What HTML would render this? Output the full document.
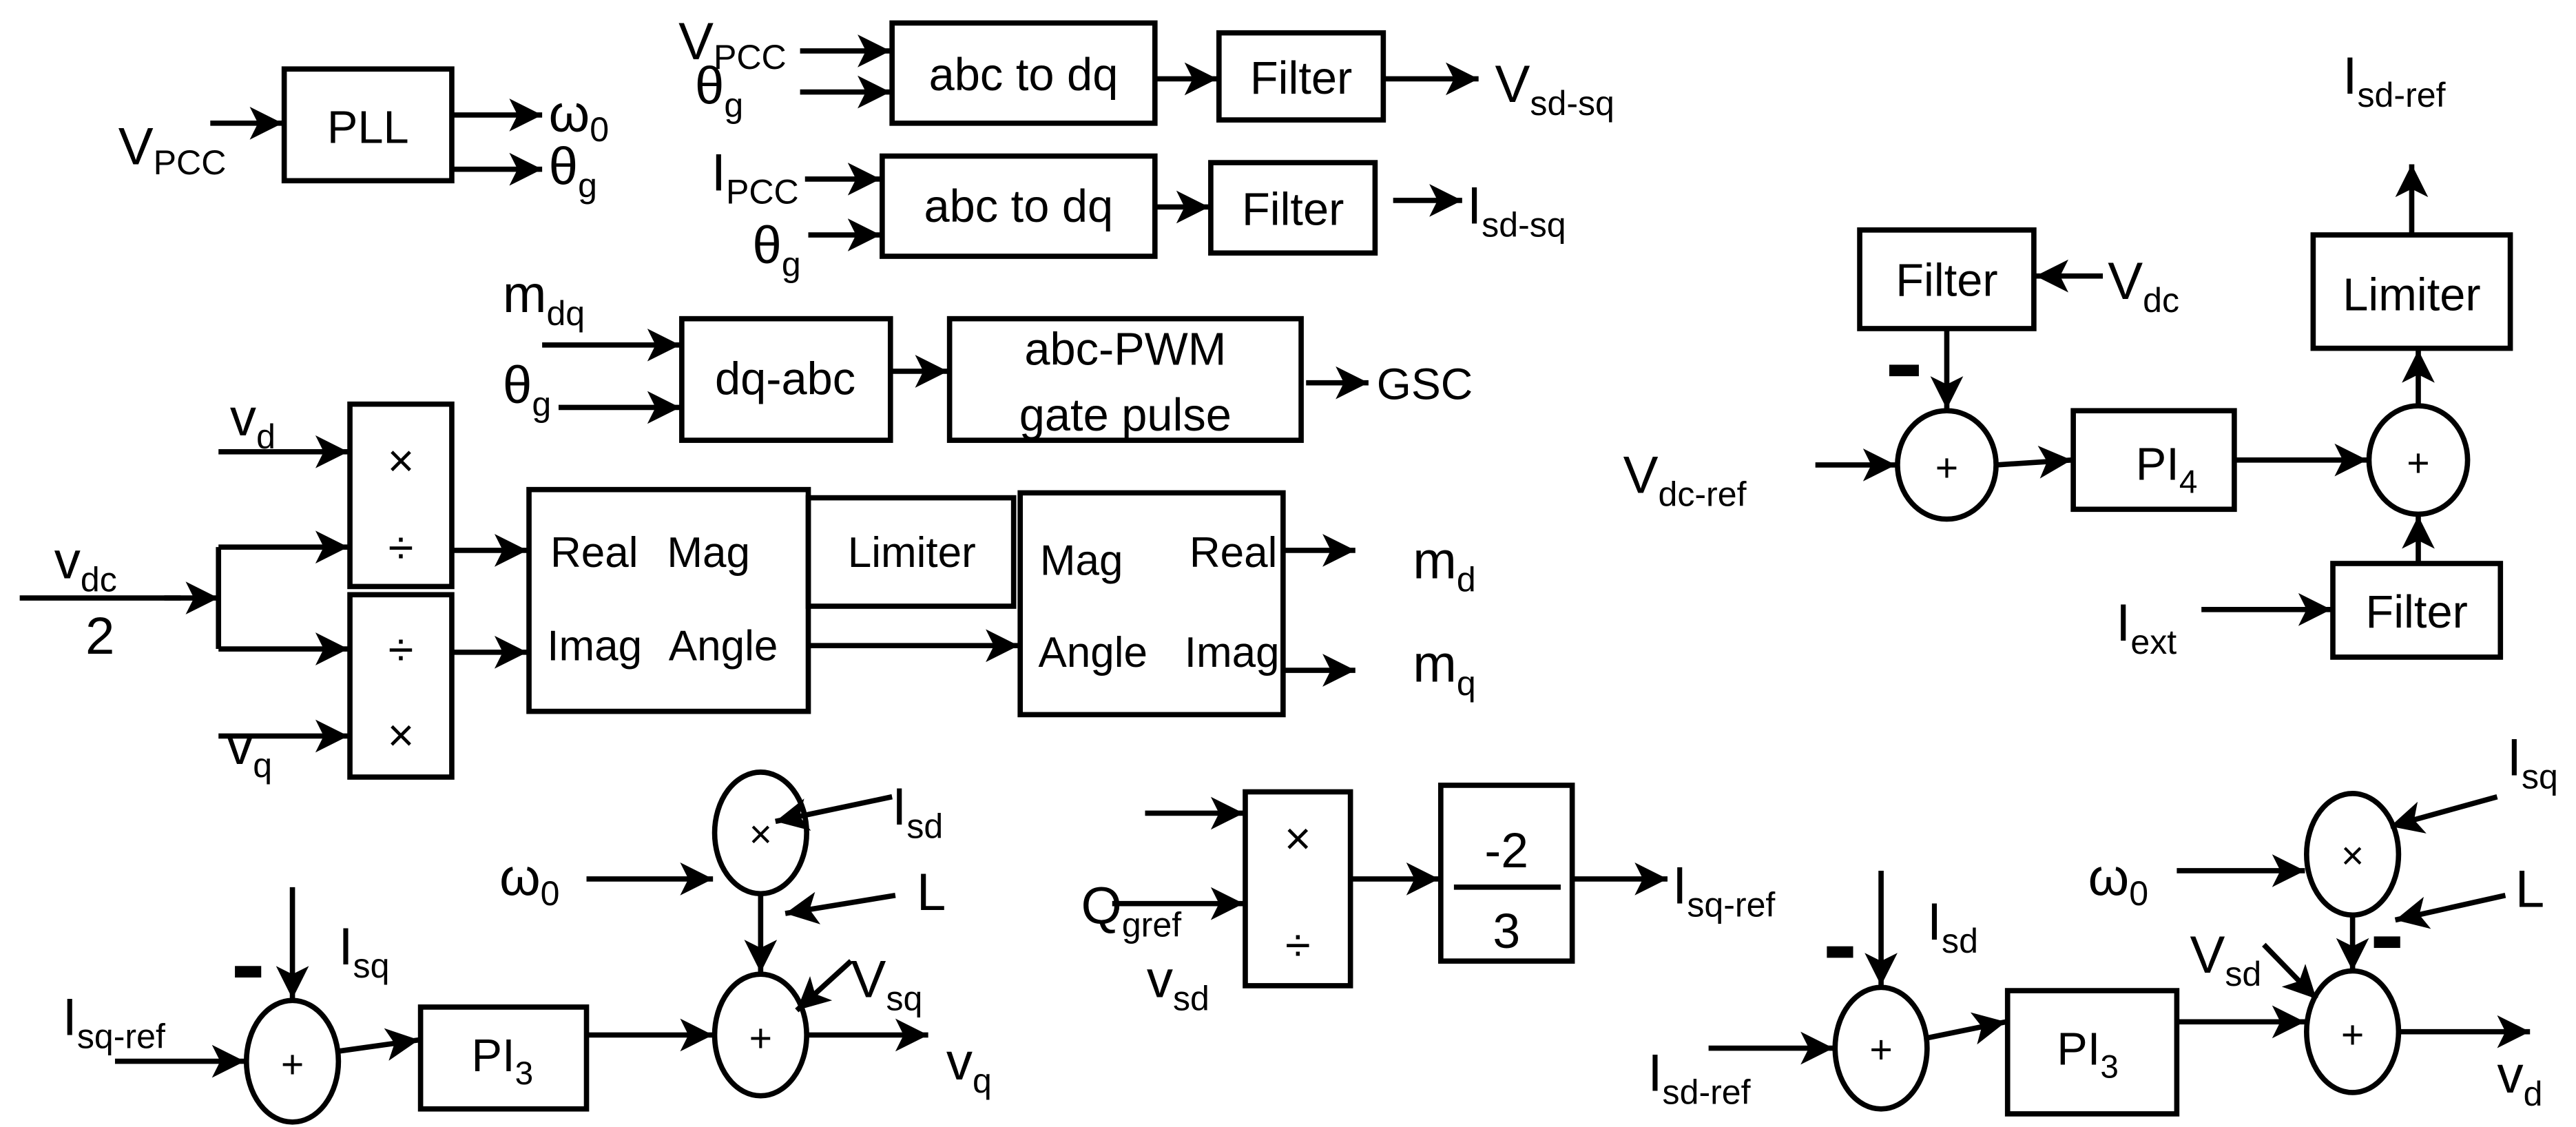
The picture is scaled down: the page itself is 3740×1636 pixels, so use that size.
<!DOCTYPE html>
<html><head><meta charset="utf-8"><style>
html,body{margin:0;padding:0;background:#fff}
svg{display:block}
text{font-family:"Liberation Sans",sans-serif;fill:#000}
.l{font-size:32px}
.l tspan{font-size:21px}
</style></head><body>
<svg width="3740" height="1636" viewBox="0 0 1568 686" preserveAspectRatio="none" xmlns="http://www.w3.org/2000/svg">
<defs>
<marker id="a" markerUnits="userSpaceOnUse" markerWidth="24" markerHeight="22" refX="20" refY="10" orient="auto"><path d="M0,0 L20,10 L0,20 L5,10 z" fill="#000"/></marker>
</defs>
<g stroke="#000" stroke-width="3.2" fill="none">
<rect x="173" y="42" width="102" height="68"/>
<line x1="128" y1="75" x2="172" y2="75" marker-end="url(#a)"/>
<line x1="275" y1="70" x2="330" y2="70" marker-end="url(#a)"/>
<line x1="275" y1="103" x2="330" y2="103" marker-end="url(#a)"/>
<rect x="543" y="14" width="160" height="61"/>
<rect x="742" y="20" width="100" height="53"/>
<line x1="487" y1="31" x2="542" y2="31" marker-end="url(#a)"/>
<line x1="487" y1="56" x2="542" y2="56" marker-end="url(#a)"/>
<line x1="703" y1="48" x2="741" y2="48" marker-end="url(#a)"/>
<line x1="842" y1="48" x2="900" y2="48" marker-end="url(#a)"/>
<rect x="537" y="95" width="166" height="61"/>
<rect x="737" y="99" width="100" height="55"/>
<line x1="490" y1="109" x2="536" y2="109" marker-end="url(#a)"/>
<line x1="492" y1="143" x2="536" y2="143" marker-end="url(#a)"/>
<line x1="703" y1="126" x2="736" y2="126" marker-end="url(#a)"/>
<line x1="848" y1="122" x2="890" y2="122" marker-end="url(#a)"/>
<rect x="415" y="194" width="127" height="74"/>
<rect x="578" y="194" width="214" height="74"/>
<line x1="330" y1="210" x2="414" y2="210" marker-end="url(#a)"/>
<line x1="340" y1="248" x2="414" y2="248" marker-end="url(#a)"/>
<line x1="542" y1="226" x2="577" y2="226" marker-end="url(#a)"/>
<line x1="795" y1="233" x2="833" y2="233" marker-end="url(#a)"/>
<rect x="213" y="246" width="62" height="111"/>
<rect x="213" y="362" width="62" height="111"/>
<line x1="133" y1="275" x2="212" y2="275" marker-end="url(#a)"/>
<line x1="133" y1="448" x2="212" y2="448" marker-end="url(#a)"/>
<line x1="12" y1="364" x2="110" y2="364"/>
<line x1="100" y1="364" x2="133" y2="364" marker-end="url(#a)"/>
<line x1="133" y1="333" x2="133" y2="395"/>
<line x1="133" y1="333" x2="212" y2="333" marker-end="url(#a)"/>
<line x1="133" y1="395" x2="212" y2="395" marker-end="url(#a)"/>
<line x1="275" y1="335" x2="321" y2="335" marker-end="url(#a)"/>
<line x1="275" y1="397" x2="321" y2="397" marker-end="url(#a)"/>
<rect x="322" y="298" width="170" height="135"/>
<rect x="492" y="303" width="125" height="66"/>
<rect x="621" y="300" width="160" height="135"/>
<line x1="492" y1="393" x2="620" y2="393" marker-end="url(#a)"/>
<line x1="781" y1="335" x2="825" y2="335" marker-end="url(#a)"/>
<line x1="781" y1="408" x2="825" y2="408" marker-end="url(#a)"/>
<rect x="1408" y="143" width="120" height="69"/>
<line x1="1468" y1="143" x2="1468" y2="100" marker-end="url(#a)"/>
<ellipse cx="1472" cy="280" rx="30" ry="33"/>
<line x1="1472" y1="247" x2="1472" y2="213" marker-end="url(#a)"/>
<rect x="1420" y="343" width="102" height="57"/>
<line x1="1472" y1="343" x2="1472" y2="314" marker-end="url(#a)"/>
<line x1="1340" y1="371" x2="1419" y2="371" marker-end="url(#a)"/>
<rect x="1262" y="250" width="98" height="60"/>
<line x1="1360" y1="280" x2="1441" y2="280" marker-end="url(#a)"/>
<ellipse cx="1185" cy="283" rx="30" ry="33"/>
<line x1="1215" y1="283" x2="1261" y2="280" marker-end="url(#a)"/>
<line x1="1105" y1="283" x2="1154" y2="283" marker-end="url(#a)"/>
<rect x="1132" y="140" width="106" height="60"/>
<line x1="1280" y1="168" x2="1239" y2="168" marker-end="url(#a)"/>
<line x1="1185" y1="200" x2="1185" y2="249" marker-end="url(#a)"/>
<ellipse cx="178" cy="646" rx="28" ry="37"/>
<line x1="70" y1="646" x2="149" y2="646" marker-end="url(#a)"/>
<line x1="178" y1="540" x2="178" y2="608" marker-end="url(#a)"/>
<rect x="256" y="613" width="101" height="62"/>
<line x1="205" y1="640" x2="255" y2="633" marker-end="url(#a)"/>
<line x1="357" y1="630" x2="434" y2="630" marker-end="url(#a)"/>
<ellipse cx="463" cy="630" rx="28" ry="37"/>
<line x1="491" y1="630" x2="565" y2="630" marker-end="url(#a)"/>
<ellipse cx="463" cy="507" rx="28" ry="37"/>
<line x1="357" y1="535" x2="434" y2="535" marker-end="url(#a)"/>
<line x1="543" y1="485" x2="472" y2="500" marker-end="url(#a)"/>
<line x1="545" y1="545" x2="478" y2="556" marker-end="url(#a)"/>
<line x1="463" y1="544" x2="463" y2="592" marker-end="url(#a)"/>
<line x1="518" y1="585" x2="485" y2="615" marker-end="url(#a)"/>
<rect x="758" y="482" width="64" height="118"/>
<line x1="697" y1="495" x2="757" y2="495" marker-end="url(#a)"/>
<line x1="677" y1="550" x2="757" y2="550" marker-end="url(#a)"/>
<line x1="822" y1="535" x2="876" y2="535" marker-end="url(#a)"/>
<rect x="877" y="478" width="80" height="107"/>
<line x1="885" y1="540" x2="950" y2="540"/>
<line x1="957" y1="535" x2="1015" y2="535" marker-end="url(#a)"/>
<ellipse cx="1145" cy="638" rx="28" ry="37"/>
<line x1="1040" y1="638" x2="1116" y2="638" marker-end="url(#a)"/>
<line x1="1145" y1="530" x2="1145" y2="600" marker-end="url(#a)"/>
<rect x="1222" y="603" width="103" height="75"/>
<line x1="1172" y1="632" x2="1221" y2="622" marker-end="url(#a)"/>
<line x1="1325" y1="622" x2="1403" y2="622" marker-end="url(#a)"/>
<ellipse cx="1432" cy="628" rx="28" ry="37"/>
<line x1="1460" y1="628" x2="1540" y2="628" marker-end="url(#a)"/>
<ellipse cx="1432" cy="520" rx="28" ry="37"/>
<line x1="1325" y1="530" x2="1403" y2="530" marker-end="url(#a)"/>
<line x1="1520" y1="485" x2="1455" y2="503" marker-end="url(#a)"/>
<line x1="1525" y1="545" x2="1458" y2="560" marker-end="url(#a)"/>
<line x1="1432" y1="557" x2="1432" y2="591" marker-end="url(#a)"/>
<line x1="1378" y1="575" x2="1410" y2="608" marker-end="url(#a)"/>
</g>
<g fill="#000">
<rect x="1150" y="222" width="18" height="7"/>
<rect x="143" y="588" width="16" height="7"/>
<rect x="1112" y="576" width="16" height="7"/>
<rect x="1445" y="570" width="16" height="7"/>
</g>
<g font-size="28">
<text class="l" x="72" y="100">V<tspan dy="6">PCC</tspan></text>
<text x="224" y="87" text-anchor="middle">PLL</text>
<text class="l" x="334" y="80">ω<tspan dy="6">0</tspan></text>
<text class="l" x="334" y="112">θ<tspan dy="8">g</tspan></text>
<text class="l" x="413" y="36">V<tspan dy="6">PCC</tspan></text>
<text class="l" x="423" y="63">θ<tspan dy="8">g</tspan></text>
<text x="623" y="55" text-anchor="middle">abc to dq</text>
<text x="792" y="57" text-anchor="middle">Filter</text>
<text class="l" x="910" y="62">V<tspan dy="8">sd-sq</tspan></text>
<text class="l" x="433" y="116">I<tspan dy="8">PCC</tspan></text>
<text class="l" x="458" y="160">θ<tspan dy="8">g</tspan></text>
<text x="620" y="135" text-anchor="middle">abc to dq</text>
<text x="787" y="137" text-anchor="middle">Filter</text>
<text class="l" x="893" y="136">I<tspan dy="8">sd-sq</tspan></text>
<text class="l" x="306" y="190">m<tspan dy="8">dq</tspan></text>
<text class="l" x="306" y="245">θ<tspan dy="8">g</tspan></text>
<text x="478" y="240" text-anchor="middle">dq-abc</text>
<text x="685" y="222" text-anchor="middle">abc-PWM</text>
<text x="685" y="262" text-anchor="middle">gate pulse</text>
<text x="838" y="243" font-size="27">GSC</text>
<text class="l" x="140" y="265">v<tspan dy="8">d</tspan></text>
<text class="l" x="138" y="465">v<tspan dy="8">q</tspan></text>
<text class="l" x="33" y="352">v<tspan dy="8">dc</tspan></text>
<text class="l" x="52" y="398">2</text>
<text x="244" y="290" text-anchor="middle">×</text>
<text x="244" y="343" text-anchor="middle">÷</text>
<text x="244" y="405" text-anchor="middle">÷</text>
<text x="244" y="457" text-anchor="middle">×</text>
<text x="335" y="345" font-size="26">Real</text>
<text x="406" y="345" font-size="26">Mag</text>
<text x="333" y="402" font-size="26">Imag</text>
<text x="407" y="402" font-size="26">Angle</text>
<text x="555" y="345" text-anchor="middle" font-size="26">Limiter</text>
<text x="633" y="350" font-size="26">Mag</text>
<text x="724" y="345" font-size="26">Real</text>
<text x="632" y="406" font-size="26">Angle</text>
<text x="721" y="406" font-size="26">Imag</text>
<text class="l" x="860" y="352">m<tspan dy="8">d</tspan></text>
<text class="l" x="860" y="415">m<tspan dy="8">q</tspan></text>
<text class="l" x="1426" y="57">I<tspan dy="8">sd-ref</tspan></text>
<text x="1468" y="189" text-anchor="middle">Limiter</text>
<text x="1472" y="290" text-anchor="middle" font-size="24">+</text>
<text x="1471" y="382" text-anchor="middle">Filter</text>
<text class="l" x="1288" y="390">I<tspan dy="8">ext</tspan></text>
<text x="1300" y="292">PI<tspan font-size="20" dy="8">4</tspan></text>
<text x="1185" y="293" text-anchor="middle" font-size="24">+</text>
<text class="l" x="988" y="300">V<tspan dy="8">dc-ref</tspan></text>
<text x="1185" y="180" text-anchor="middle">Filter</text>
<text class="l" x="1283" y="182">V<tspan dy="8">dc</tspan></text>
<text class="l" x="38" y="630">I<tspan dy="8">sq-ref</tspan></text>
<text x="178" y="656" text-anchor="middle" font-size="24">+</text>
<text class="l" x="206" y="587">I<tspan dy="8">sq</tspan></text>
<text x="287" y="652">PI<tspan font-size="20" dy="8">3</tspan></text>
<text x="463" y="640" text-anchor="middle" font-size="24">+</text>
<text class="l" x="576" y="657">v<tspan dy="8">q</tspan></text>
<text x="463" y="516" text-anchor="middle" font-size="24">×</text>
<text class="l" x="304" y="545">ω<tspan dy="6">0</tspan></text>
<text class="l" x="543" y="502">I<tspan dy="8">sd</tspan></text>
<text class="l" x="558" y="554">L</text>
<text class="l" x="518" y="607">V<tspan dy="8">sq</tspan></text>
<text x="790" y="520" text-anchor="middle">×</text>
<text x="790" y="585" text-anchor="middle">÷</text>
<text class="l" x="658" y="562">Q<tspan dy="8">gref</tspan></text>
<text class="l" x="698" y="607">v<tspan dy="8">sd</tspan></text>
<text x="917" y="528" text-anchor="middle" font-size="30">-2</text>
<text x="917" y="577" text-anchor="middle" font-size="30">3</text>
<text class="l" x="1018" y="550">I<tspan dy="8">sq-ref</tspan></text>
<text class="l" x="1003" y="664">I<tspan dy="8">sd-ref</tspan></text>
<text x="1145" y="647" text-anchor="middle" font-size="24">+</text>
<text class="l" x="1173" y="572">I<tspan dy="8">sd</tspan></text>
<text x="1252" y="648">PI<tspan font-size="20" dy="8">3</tspan></text>
<text x="1432" y="638" text-anchor="middle" font-size="24">+</text>
<text class="l" x="1520" y="665">v<tspan dy="8">d</tspan></text>
<text x="1432" y="529" text-anchor="middle" font-size="24">×</text>
<text class="l" x="1271" y="545">ω<tspan dy="6">0</tspan></text>
<text class="l" x="1526" y="472">I<tspan dy="8">sq</tspan></text>
<text class="l" x="1531" y="552">L</text>
<text class="l" x="1333" y="592">V<tspan dy="8">sd</tspan></text>
</g>
</svg>
</body></html>
